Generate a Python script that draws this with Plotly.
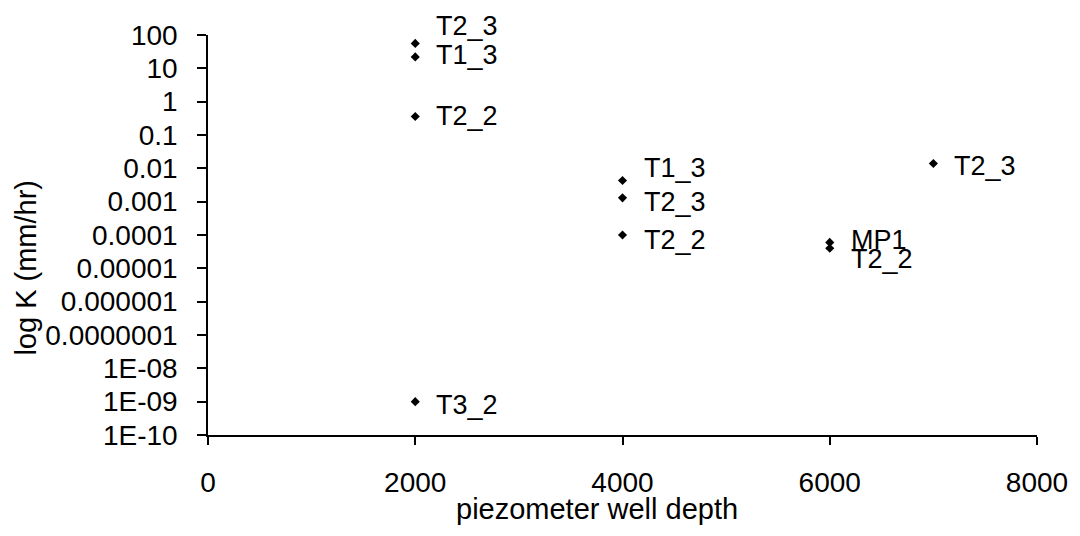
import math
import plotly.graph_objects as go

# ---- data ----
depth = [2000, 2000, 2000, 2000, 4000, 4000, 4000, 6000, 6000, 7000]
log_k = [56, 22, 0.36, 1e-9, 0.0043, 0.0013, 0.0001, 6.0e-5, 4.0e-5, 0.014]
point_labels = ["T2_3", "T1_3", "T2_2", "T3_2", "T1_3", "T2_3", "T2_2", "MP1", "T2_2", "T2_3"]

y_tickvals = [100, 10, 1, 0.1, 0.01, 0.001, 0.0001, 0.00001, 0.000001, 0.0000001, 1e-8, 1e-9, 1e-10]
y_ticktext = ["100", "10", "1", "0.1", "0.01", "0.001", "0.0001", "0.00001", "0.000001",
              "0.0000001", "1E-08", "1E-09", "1E-10"]
x_tickvals = [0, 2000, 4000, 6000, 8000]
x_ticktext = ["0", "2000", "4000", "6000", "8000"]

# label placement (pixel nudges, style only)
label_dy = [17, 2, 0, -3, 13, -4, -5, 2, -11, -3]

FONT = "Liberation Sans, Arial, sans-serif"

# the page body has an 8px default margin; compensate so the plot lands where the reference has it
BODY = 8
PLOT_L, PLOT_T, PLOT_W, PLOT_H = 208, 31, 830, 404.5

fig = go.Figure()
fig.add_trace(go.Scatter(
    x=depth, y=log_k, mode="markers",
    marker=dict(symbol="diamond", size=7, color="black", line=dict(width=0)),
    showlegend=False, hoverinfo="x+y",
))

annotations = []
for xv, yv, lab, dy in zip(depth, log_k, point_labels, label_dy):
    annotations.append(dict(
        x=xv, y=math.log10(yv), xref="x", yref="y", text=lab, showarrow=False,
        xanchor="left", yanchor="middle", xshift=19, yshift=dy,
        font=dict(family=FONT, size=27, color="black"),
    ))

# axis titles as annotations (offset from the plot centre like the original)
annotations.append(dict(
    text="piezometer well depth", xref="paper", yref="paper",
    x=(597.5 - PLOT_L) / PLOT_W, y=(PLOT_T + PLOT_H - 510) / PLOT_H,
    xanchor="center", yanchor="middle", showarrow=False,
    font=dict(family=FONT, size=29, color="black"),
))
annotations.append(dict(
    text="log K (mm/hr)", xref="paper", yref="paper",
    x=(25.5 - PLOT_L) / PLOT_W, y=(PLOT_T + PLOT_H - 266.5) / PLOT_H,
    xanchor="center", yanchor="middle", showarrow=False, textangle=-90,
    font=dict(family=FONT, size=29, color="black"),
))

W, H = 1080 - BODY, 536 - BODY
fig.update_layout(
    width=W, height=H,
    margin=dict(l=PLOT_L - BODY, r=W - (PLOT_L - BODY) - PLOT_W, t=PLOT_T - BODY,
                b=H - (PLOT_T - BODY) - PLOT_H, pad=0),
    paper_bgcolor="white", plot_bgcolor="white",
    font=dict(family=FONT, size=28, color="black"),
    annotations=annotations,
    xaxis=dict(
        range=[0, 8000], tickvals=x_tickvals, ticktext=x_ticktext,
        showgrid=False, zeroline=False, showline=True, linecolor="black", linewidth=1.5,
        ticks="outside", ticklen=8, tickwidth=1.5, tickcolor="black",
        ticklabelstandoff=14, tickfont=dict(family=FONT, size=28, color="black"),
    ),
    yaxis=dict(
        type="log", range=[-10, 2], tickvals=y_tickvals, ticktext=y_ticktext,
        showgrid=False, zeroline=False, showline=True, linecolor="black", linewidth=1.5,
        ticks="outside", ticklen=9, tickwidth=1.5, tickcolor="black",
        ticklabelstandoff=14, tickfont=dict(family=FONT, size=28, color="black"),
    ),
)

fig.write_html("out.html")
